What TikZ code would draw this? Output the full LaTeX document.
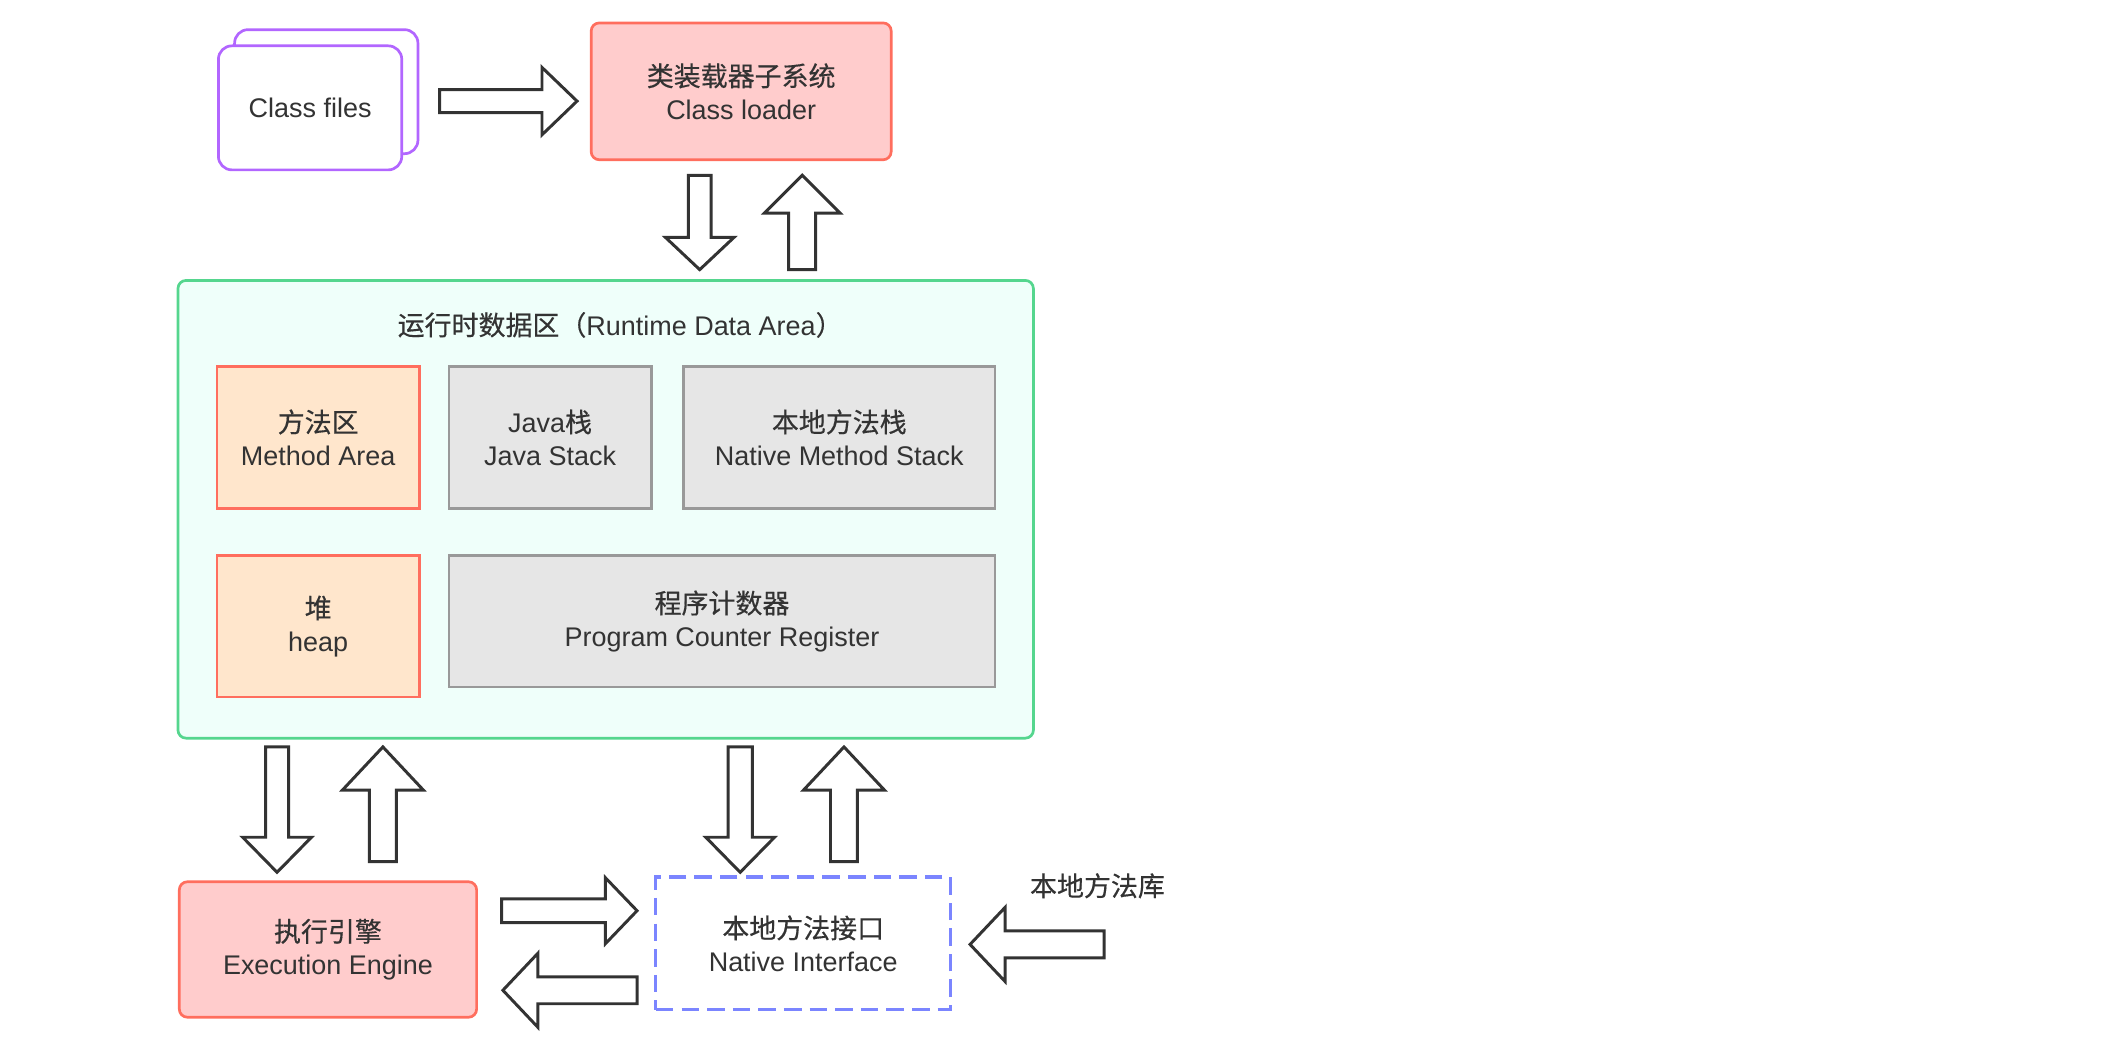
\documentclass[tikz,border=0pt]{standalone}
\usepackage{fontspec}
\setmainfont{Liberation Sans}
\newfontfamily\cjk{Noto Sans CJK SC}[FakeBold=0.4]
\usetikzlibrary{calc}
\definecolor{txt}{HTML}{333333}
\definecolor{redfill}{HTML}{FFCCCC}
\definecolor{redline}{HTML}{FF6E5E}
\definecolor{orfill}{HTML}{FFE6CC}
\definecolor{grfill}{HTML}{E6E6E6}
\definecolor{grline}{HTML}{999999}
\definecolor{areafill}{HTML}{EFFFFA}
\definecolor{arealine}{HTML}{55D68E}
\definecolor{purp}{HTML}{B266FF}
\definecolor{blueline}{HTML}{7B85FF}
\definecolor{arrline}{HTML}{333333}
\tikzset{
  every node/.style={font=\fontsize{20}{24.5}\selectfont, text=txt, align=center, inner sep=0pt},
  box/.style={draw, line width=2pt, rectangle},
  redbox/.style={box, draw=redline, fill=redfill, rounded corners=6pt},
  orbox/.style={box, draw=redline, fill=orfill},
  grbox/.style={box, draw=grline, fill=grfill},
  areabox/.style={box, draw=arealine, fill=areafill, rounded corners=6pt},
  filebox/.style={box, draw=purp, fill=white, rounded corners=10pt},
  nativebox/.style={box, line width=2.3pt, draw=blueline, fill=white, dash pattern=on 13pt off 6pt},
  blockarrow/.style={draw=arrline, fill=white, line width=2.2pt, line join=miter},
}
% #1 start, #2 tip, #3 shaft half-width, #4 head half-width, #5 head length
\newcommand\hollowarrow[5]{%
  \path ($(#2)!#5!(#1)$) coordinate (hh);
  \draw[blockarrow] ($(#1)!#3!90:(#2)$) -- ($(hh)!#3!90:(#2)$) -- ($(hh)!#4!90:(#2)$)
    -- (#2) -- ($(hh)!#4!-90:(#2)$) -- ($(hh)!#3!-90:(#2)$) -- ($(#1)!#3!-90:(#2)$) -- cycle;}
\begin{document}
\begin{tikzpicture}[x=1pt,y=-1pt]
\useasboundingbox (0,0) rectangle (1568,774);
% class files
\node[filebox, minimum width=136pt, minimum height=92pt] (filesback) at (242,68) {};
\node[filebox, minimum width=136pt, minimum height=92pt] (files) at (230,80) {Class files};
% class loader
\node[redbox, minimum width=222.5pt, minimum height=101.5pt] (loader) at (549.75,67.75)
  {{\cjk 类装载器子系统}\\Class loader};
% runtime data area
\node[areabox, minimum width=634.5pt, minimum height=339.5pt] (area) at (449.25,377.75) {};
\node (areatitle) at (460,241) {{\cjk 运行时数据区（}Runtime Data Area{\cjk ）}};
\node[orbox, minimum width=150pt, minimum height=105pt] (method) at (236,324.5)
  {{\cjk 方法区}\\Method Area};
\node[grbox, minimum width=150pt, minimum height=105pt] (jstack) at (408,324.5)
  {Java{\cjk 栈}\\Java Stack};
\node[grbox, minimum width=231pt, minimum height=105pt] (nstack) at (622.5,324.5)
  {{\cjk 本地方法栈}\\Native Method Stack};
\node[orbox, minimum width=150pt, minimum height=105pt] (heap) at (236,464.5)
  {{\cjk 堆}\\heap};
\node[grbox, minimum width=405pt, minimum height=97.5pt] (pcr) at (535.5,460.75)
  {{\cjk 程序计数器}\\Program Counter Register};
% execution engine and native interface
\node[redbox, minimum width=220.5pt, minimum height=100.5pt] (exec) at (243.25,704.25)
  {{\cjk 执行引擎}\\Execution Engine};
\node[nativebox, minimum width=218.5pt, minimum height=98.5pt] (native) at (595.75,699.75)
  {{\cjk 本地方法接口}\\Native Interface};
\node (lib) at (814,657) {\cjk 本地方法库};
% arrow end points
\coordinate (a1s) at (326,75);   \coordinate (a1e) at (428,75);
\coordinate (a2s) at (519,130);  \coordinate (a2e) at (519,200);
\coordinate (a3s) at (595,200);  \coordinate (a3e) at (595,130);
\coordinate (a4s) at (205.5,554); \coordinate (a4e) at (205.5,647);
\coordinate (a5s) at (284,639);  \coordinate (a5e) at (284,554);
\coordinate (a6s) at (549,554);  \coordinate (a6e) at (549,647);
\coordinate (a7s) at (626,639);  \coordinate (a7e) at (626,554);
\coordinate (a8s) at (372,675.5); \coordinate (a8e) at (472.5,675.5);
\coordinate (a9s) at (472.5,734.5); \coordinate (a9e) at (373,734.5);
\coordinate (a10s) at (819,700.5); \coordinate (a10e) at (719.5,700.5);
\hollowarrow{a1s}{a1e}{8.5pt}{25pt}{26pt}
\hollowarrow{a2s}{a2e}{8.5pt}{25.5pt}{24pt}
\hollowarrow{a3s}{a3e}{10pt}{28pt}{28pt}
\hollowarrow{a4s}{a4e}{8.5pt}{25.5pt}{26pt}
\hollowarrow{a5s}{a5e}{10pt}{30pt}{32pt}
\hollowarrow{a6s}{a6e}{9pt}{25.5pt}{26pt}
\hollowarrow{a7s}{a7e}{10pt}{30pt}{32pt}
\hollowarrow{a8s}{a8e}{8.75pt}{24.5pt}{23.5pt}
\hollowarrow{a9s}{a9e}{10pt}{27.5pt}{26pt}
\hollowarrow{a10s}{a10e}{10pt}{27.5pt}{26pt}
\end{tikzpicture}
\end{document}
